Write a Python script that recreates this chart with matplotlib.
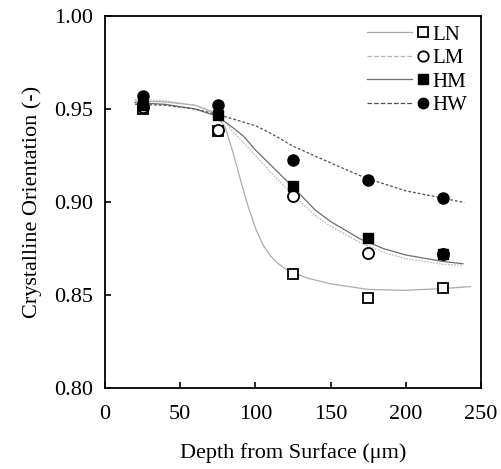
import matplotlib
matplotlib.use("Agg")
import matplotlib.pyplot as plt
from matplotlib.lines import Line2D
from matplotlib.legend_handler import HandlerBase

plt.rcParams['font.family'] = ['Liberation Serif', 'DejaVu Serif']

# measured points
depth = [25, 75, 125, 175, 225]
LN = [0.950, 0.938, 0.8615, 0.8485, 0.854]
LM = [0.951, 0.9385, 0.903, 0.8728, 0.8718]
HM = [0.952, 0.947, 0.9086, 0.8808, 0.8719]
HW = [0.957, 0.952, 0.9224, 0.9118, 0.9023]

# fitted curves
LN_fit_x = [20, 40, 60, 70, 75, 80, 85, 90, 95, 100, 105, 110, 115, 120, 125, 135, 150, 175, 200, 225, 243]
LN_fit_y = [0.9543, 0.9538, 0.952, 0.949, 0.946, 0.940, 0.927, 0.912, 0.898, 0.886, 0.877, 0.871, 0.867,
            0.864, 0.862, 0.859, 0.856, 0.853, 0.8525, 0.8535, 0.8545]
LM_fit_x = [20, 40, 60, 75, 85, 92, 100, 110, 125, 140, 150, 170, 185, 200, 225, 238]
LM_fit_y = [0.9552, 0.9545, 0.952, 0.947, 0.938, 0.932, 0.925, 0.916, 0.904, 0.8925, 0.887, 0.878,
            0.873, 0.8695, 0.8665, 0.866]
HM_fit_x = [20, 40, 60, 75, 85, 92, 100, 110, 125, 140, 150, 170, 185, 200, 225, 238]
HM_fit_y = [0.9534, 0.9525, 0.950, 0.946, 0.940, 0.9355, 0.928, 0.920, 0.908, 0.8955, 0.8895, 0.880,
            0.875, 0.8715, 0.868, 0.8668]
HW_fit_x = [20, 40, 60, 75, 90, 100, 110, 125, 150, 173, 200, 225, 239]
HW_fit_y = [0.9525, 0.952, 0.950, 0.947, 0.9435, 0.941, 0.937, 0.930, 0.921, 0.913, 0.906, 0.902, 0.8997]

labels = ['LN', 'LM', 'HM', 'HW']
xticks = [0, 50, 100, 150, 200, 250]
yticks = [0.80, 0.85, 0.90, 0.95, 1.00]

fig = plt.figure(figsize=(5.01, 4.69), dpi=100)
ax = fig.add_axes([0.2096, 0.1727, 0.7505, 0.7932])

l1, = ax.plot(LN_fit_x, LN_fit_y, color='#ababab', lw=0.9, ls='-')
l2, = ax.plot(LM_fit_x, LM_fit_y, color='#b5b5b5', lw=0.9, ls=(0, (1.2, 1.2)))
l3, = ax.plot(HM_fit_x, HM_fit_y, color='#6e6e6e', lw=0.9, ls='-')
l4, = ax.plot(HW_fit_x, HW_fit_y, color='#505050', lw=0.9, ls=(0, (2.2, 1.6)))

ms = 7.5
m1, = ax.plot(depth, LN, ls='none', marker='s', ms=ms, mfc='white', mec='black', mew=1.3, zorder=3)
m2, = ax.plot(depth, LM, ls='none', marker='o', ms=ms + 0.5, mfc='white', mec='black', mew=1.3, zorder=4)
m3, = ax.plot(depth, HM, ls='none', marker='s', ms=ms, mfc='black', mec='black', mew=1.0, zorder=5)
m4, = ax.plot(depth, HW, ls='none', marker='o', ms=ms + 0.5, mfc='black', mec='black', mew=1.0, zorder=6)


class LineThenMarker(HandlerBase):
    def create_artists(self, legend, orig_handle, xdescent, ydescent, width, height, fontsize, trans):
        line, mk = orig_handle
        y = (height - ydescent) / 2.0
        x0 = -xdescent
        l = Line2D([x0, x0 + 0.72 * width], [y, y], color=line.get_color(),
                   linestyle=line.get_linestyle(), linewidth=line.get_linewidth())
        m = Line2D([x0 + 0.89 * width], [y], linestyle='none', marker=mk.get_marker(),
                   markersize=mk.get_markersize() - 0.5, markerfacecolor=mk.get_markerfacecolor(),
                   markeredgecolor=mk.get_markeredgecolor(), markeredgewidth=mk.get_markeredgewidth())
        l.set_transform(trans)
        m.set_transform(trans)
        return [l, m]


handles = [(l1, m1), (l2, m2), (l3, m3), (l4, m4)]
ax.legend(handles, labels, handler_map={tuple: LineThenMarker()}, loc='upper left',
          bbox_to_anchor=(0.697, 0.976), frameon=False, fontsize=15, handlelength=3.0,
          handletextpad=0.15, labelspacing=0.19, borderpad=0, borderaxespad=0)

ax.set_xlim(0, 250)
ax.set_ylim(0.80, 1.00)
ax.set_xticks(xticks)
ax.set_yticks(yticks)
ax.set_yticklabels([f'{v:.2f}' for v in yticks])
ax.tick_params(direction='in', length=4, width=1.2, labelsize=16, top=False, right=False)
ax.tick_params(axis='x', pad=12)
ax.tick_params(axis='y', pad=8.5)
for s in ax.spines.values():
    s.set_linewidth(1.3)

ax.set_xlabel('Depth from Surface (μm)', fontsize=16, labelpad=14)
ax.set_ylabel('Crystalline Orientation (-)', fontsize=16, labelpad=9)

fig.savefig('out.png', dpi=100)
